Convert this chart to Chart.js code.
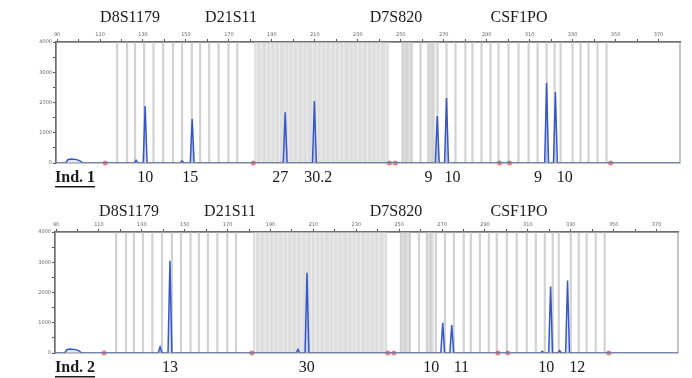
<!DOCTYPE html>
<html>
<head>
<meta charset="utf-8">
<script src="https://cdn.jsdelivr.net/npm/chart.js@4.4.1/dist/chart.umd.min.js"></script>
<style>
  html, body { margin: 0; padding: 0; background: #fff; }
  .panel { position: absolute; left: 0; width: 692px; height: 189px; }
</style>
</head>
<body>
<div class="panel" style="top:0"><canvas id="ind1" width="692" height="189"></canvas></div>
<div class="panel" style="top:190px"><canvas id="ind2" width="692" height="189"></canvas></div>
<script>
// size axis (bp) and signal axis (RFU)
const BP_MIN = 89.5;
const BP_MAX = 380;
const X_TICKS = [90, 100, 110, 120, 130, 140, 150, 160, 170, 180, 190, 200, 210, 220, 230, 240,
  250, 260, 270, 280, 290, 300, 310, 320, 330, 340, 350, 360, 370];
const Y_TICKS = [0, 500, 1000, 1500, 2000, 2500, 3000, 3500, 4000];

const LOCI = ['D8S1179', 'D21S11', 'D7S820', 'CSF1PO'];

// allelic ladder bins (bp)
const BIN_LINES = [118.0, 122.6, 126.3, 130.5, 134.9, 139.4, 144.0, 148.2, 152.7, 156.6, 160.8,
  165.2, 169.8, 173.9,
  250.8, 252.6, 255.0, 259.2, 262.9, 264.7, 267.1, 271.3, 275.5, 280.1, 283.4, 287.6, 291.8,
  295.5, 300.2, 304.8, 309.5, 313.7, 317.9, 321.6, 324.4, 330.0, 333.7, 337.4, 341.6, 345.8];
const D21_LINES = [183, 185, 187.5, 189.5, 191.5, 193.5, 196, 198, 200, 202, 204.5, 206.5, 209,
  211, 213, 215, 217.5, 219.5, 221.5, 223.5, 226, 228, 230, 232, 234.5, 236.5, 238.5, 240.5, 243];
const SHADE_START = [181.8, 250.8, 262.4];
const SHADE_END = [244.4, 255.5, 266.1];

// primer-dimer hump at start of trace
const DIMER_BP = [94, 95, 96.5, 98.5, 100.5, 102];
const DIMER_RFU = [0, 110, 130, 120, 80, 0];

// size standard / off-ladder marks at the baseline
const MARK_BP = [112.4, 181.3, 244.7, 247.5, 296.0, 300.6, 347.7];

// Ind. 1
const IND1_PEAK_BP = [126.8, 131.0, 148.2, 152.9, 196.2, 209.8, 267.0, 271.3, 317.9, 322.0];
const IND1_PEAK_RFU = [90, 1880, 70, 1450, 1680, 2050, 1550, 2150, 2640, 2350];
const IND1_ALLELES = ['10', '15', '27', '30.2', '9', '10', '9', '10'];
const IND1_ALLELE_BP = [131.0, 152.0, 193.9, 211.6, 262.9, 274.1, 313.9, 326.3];
const IND1_LOCUS_X = [130, 231, 396, 519];

// Ind. 2
const IND2_PEAK_BP = [138.5, 143.1, 202.8, 207.0, 270.3, 274.5, 316.7, 320.6, 324.8, 328.5];
const IND2_PEAK_RFU = [200, 3050, 120, 2650, 1000, 920, 60, 2200, 80, 2400];
const IND2_ALLELES = ['13', '30', '10', '11', '10', '12'];
const IND2_ALLELE_BP = [143.1, 206.9, 265.0, 279.0, 318.6, 333.0];
const IND2_LOCUS_X = [129, 230, 396, 519];

const PEAK_HALF = 0.9;

function buildTrace(peakBp, peakRfu) {
  const pts = [{ x: BP_MIN, y: 0 }];
  DIMER_BP.forEach((b, i) => pts.push({ x: b, y: DIMER_RFU[i] }));
  peakBp.forEach((b, i) => {
    pts.push({ x: b - PEAK_HALF, y: 0 });
    pts.push({ x: b, y: peakRfu[i] });
    pts.push({ x: b + PEAK_HALF, y: 0 });
  });
  pts.push({ x: BP_MAX, y: 0 });
  return pts;
}

const binsPlugin = {
  id: 'bins',
  beforeDatasetsDraw(chart) {
    const { ctx, chartArea: a, scales: { x } } = chart;
    const vline = (b, color, w) => {
      const px = x.getPixelForValue(b);
      ctx.strokeStyle = color;
      ctx.lineWidth = w;
      ctx.beginPath();
      ctx.moveTo(px, a.top);
      ctx.lineTo(px, a.bottom);
      ctx.stroke();
    };
    ctx.save();
    ctx.fillStyle = '#dedede';
    SHADE_START.forEach((s, i) => {
      const x0 = x.getPixelForValue(s), x1 = x.getPixelForValue(SHADE_END[i]);
      ctx.fillRect(x0, a.top, x1 - x0, a.bottom - a.top);
    });
    D21_LINES.forEach(b => vline(b, '#eeeeee', 1));
    BIN_LINES.forEach(b => vline(b, '#d2d2d2', 2.2));
    ctx.restore();
  },
  afterDraw(chart) {
    const { ctx, chartArea: a } = chart;
    ctx.save();
    ctx.strokeStyle = '#8a8a8a';
    ctx.lineWidth = 1;
    ctx.strokeRect(a.left, a.top, a.right - a.left, a.bottom - a.top);
    ctx.restore();
  }
};

const labelsPlugin = {
  id: 'labels',
  afterDraw(chart, args, opts) {
    const { ctx, scales: { x } } = chart;
    ctx.save();
    ctx.fillStyle = '#1a1a1a';
    ctx.textAlign = 'center';
    ctx.textBaseline = 'middle';
    ctx.font = '16px "Liberation Serif", serif';
    LOCI.forEach((name, i) => ctx.fillText(name, opts.locusX[i], opts.locusY));
    opts.alleles.forEach((t, i) => ctx.fillText(t, x.getPixelForValue(opts.alleleBp[i]), 178));
    ctx.font = 'bold 16px "Liberation Serif", serif';
    ctx.textAlign = 'left';
    ctx.fillText(opts.ind, 55, 178);
    const w = ctx.measureText(opts.ind).width;
    ctx.fillRect(55, 186, w, 1.5);
    ctx.restore();
  }
};

function makePanel(id, cfg) {
  new Chart(document.getElementById(id), {
    data: {
      datasets: [
        {
          type: 'line',
          data: buildTrace(cfg.peakBp, cfg.peakRfu),
          borderColor: '#3557c9',
          borderWidth: 1.5,
          backgroundColor: 'rgba(120,150,225,0.22)',
          fill: 'origin',
          pointRadius: 0,
          tension: 0,
        },
        {
          type: 'scatter',
          data: MARK_BP.map(b => ({ x: b, y: 0 })),
          backgroundColor: 'rgba(225,70,70,0.7)',
          borderWidth: 0,
          pointRadius: 2.5,
          clip: false,
        }
      ]
    },
    plugins: [binsPlugin, labelsPlugin],
    options: {
      responsive: false,
      animation: false,
      layout: { padding: { left: cfg.left - 40, right: 692 - cfg.right, top: 30, bottom: 26 } },
      plugins: {
        legend: { display: false },
        tooltip: { enabled: false },
        labels: cfg.labels,
      },
      scales: {
        x: {
          type: 'linear',
          position: 'top',
          min: BP_MIN,
          max: BP_MAX,
          afterBuildTicks: s => { s.ticks = X_TICKS.map(v => ({ value: v })); },
          afterFit: s => { s.height = 12; },
          border: { color: '#555', width: 1.5 },
          grid: { drawOnChartArea: false, tickLength: 3, color: '#555' },
          ticks: {
            autoSkip: false,
            maxRotation: 0,
            padding: 1,
            color: '#666',
            font: { size: 5, family: 'DejaVu Sans' },
            callback: v => ((v - 90) % 20 === 0 ? v : ''),
          }
        },
        y: {
          min: 0,
          max: 4000,
          afterBuildTicks: s => { s.ticks = Y_TICKS.map(v => ({ value: v })); },
          afterFit: s => { s.width = 40; },
          border: { color: '#555', width: 1.5 },
          grid: { drawOnChartArea: false, tickLength: 3, color: '#555' },
          ticks: {
            autoSkip: false,
            padding: 1,
            color: '#666',
            font: { size: 5, family: 'DejaVu Sans' },
            callback: v => (v % 1000 === 0 ? v : ''),
          }
        }
      }
    }
  });
}

makePanel('ind1', {
  left: 56, right: 680,
  peakBp: IND1_PEAK_BP, peakRfu: IND1_PEAK_RFU,
  labels: { ind: 'Ind. 1', alleles: IND1_ALLELES, alleleBp: IND1_ALLELE_BP, locusX: IND1_LOCUS_X, locusY: 18 }
});
makePanel('ind2', {
  left: 55, right: 678,
  peakBp: IND2_PEAK_BP, peakRfu: IND2_PEAK_RFU,
  labels: { ind: 'Ind. 2', alleles: IND2_ALLELES, alleleBp: IND2_ALLELE_BP, locusX: IND2_LOCUS_X, locusY: 22 }
});
</script>
</body>
</html>
